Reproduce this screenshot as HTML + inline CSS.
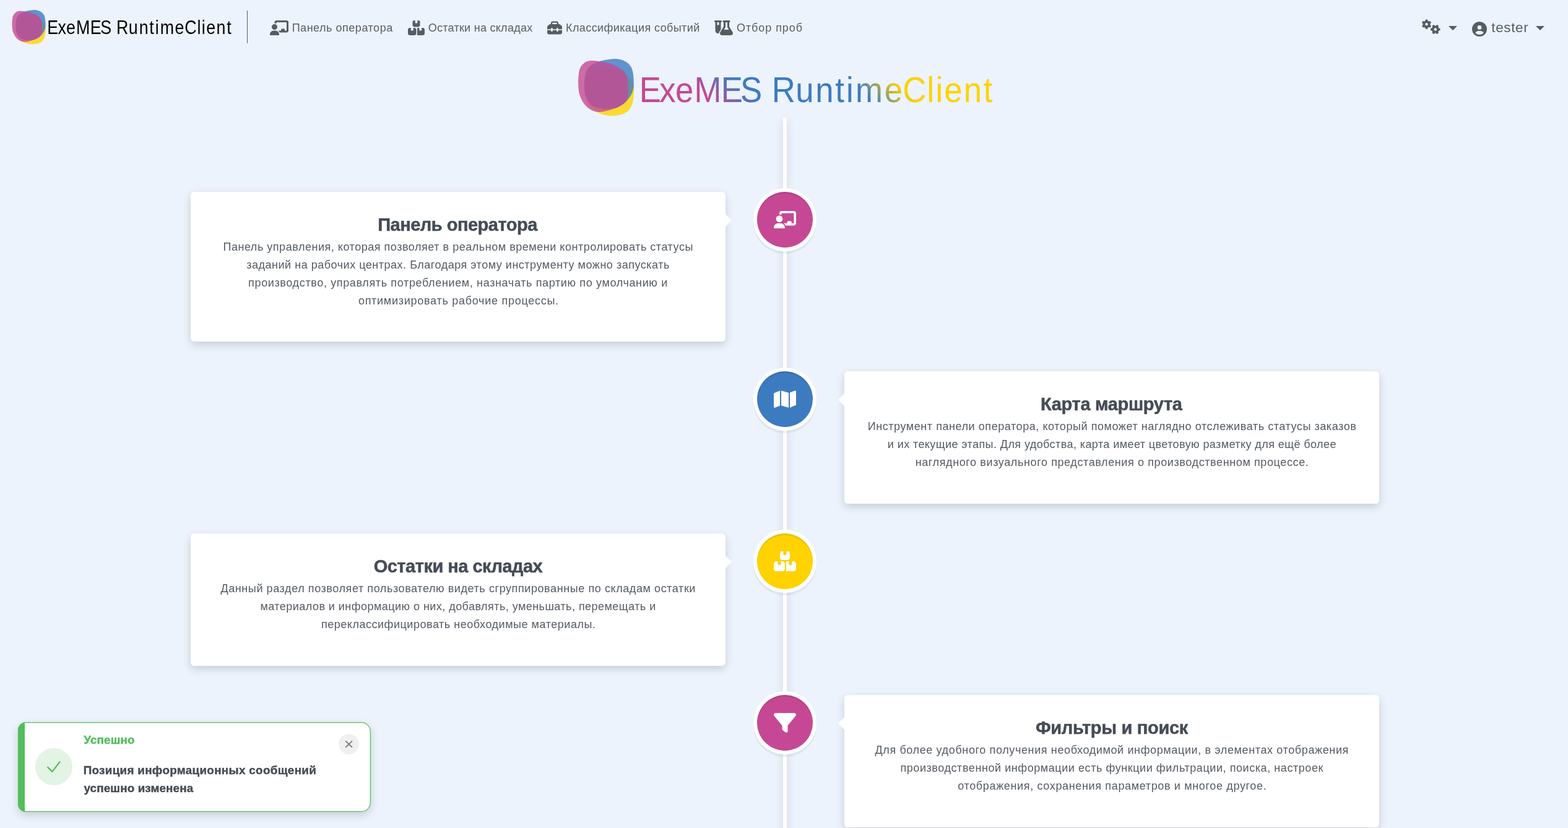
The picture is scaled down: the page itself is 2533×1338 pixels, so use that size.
<!DOCTYPE html>
<html lang="ru">
<head>
<meta charset="utf-8">
<meta name="viewport" content="width=device-width, initial-scale=1">
<title>ExeMES RuntimeClient</title>
<style>
html,body{margin:0;padding:0;background:#ecf3fc;}
body{width:2533px;height:1338px;overflow:hidden;position:relative;font-family:"Liberation Sans", sans-serif;}
#app{position:absolute;left:0;top:0;width:2533px;height:1338px;overflow:hidden;will-change:transform;}
nav,main,header,h1,h3,p,ul,li{margin:0;padding:0;font-weight:400;font-size:inherit;list-style:none;}
.abs{position:absolute;display:block;}
.t{position:absolute;display:block;white-space:nowrap;margin:0;padding:0;font-family:"Liberation Sans", sans-serif;font-weight:400;text-decoration:none;}
.sep{position:absolute;left:399px;top:17px;width:1px;height:53px;background:#5a5f66;}
.caret{position:absolute;width:0;height:0;border-left:7px solid transparent;border-right:7px solid transparent;border-top:7px solid #575c62;}
.line{position:absolute;left:1265px;top:190px;width:6px;height:1200px;background:#fff;box-shadow:0 5px 14px rgba(0,0,0,.16);}
.card{position:absolute;width:864px;background:#fff;border-radius:6px;box-shadow:0 5px 14px rgba(0,0,0,.16);}
.arrow{position:absolute;top:36px;width:0;height:0;border:10px solid transparent;}
.arrow.l{left:864px;border-left-color:#fff;}
.arrow.r{left:-20px;border-right-color:#fff;}
.dot{position:absolute;left:1223px;width:90px;height:90px;border-radius:50%;box-shadow:0 0 0 6px #fff, inset 0 3px 0 rgba(0,0,0,.08), 0 4.5px 0 6px rgba(0,0,0,.05);}
.toast{position:absolute;left:29px;top:1167px;width:570px;height:145px;border-radius:13px 15px 15px 13px;background:linear-gradient(to right,#52be5a 0,#52be5a 10.8px,#fff 10.8px);box-shadow:inset 0 0 0 1.25px #52be5a, 0 5px 14px rgba(0,0,0,.16);}
.ticon{position:absolute;left:28px;top:42px;width:60px;height:60px;border-radius:50%;background:#e3f3e4;}
.tclose{position:absolute;left:518px;top:19px;width:33px;height:33px;border:0;padding:0;margin:0;border-radius:50%;background:#f0f0f0;}
</style>
</head>
<body>
<div id="app">

<nav>
<svg class="abs" style="left:17.0px;top:13.0px" width="62" height="62" viewBox="0 0 62 62"><path fill="#ffd200" fill-opacity="0.8" d="M8.31 30.08C8.25 27.23 8.31 23.46 8.74 21.05C9.16 18.65 9.79 17.04 10.85 15.64C11.90 14.24 13.36 13.28 15.06 12.63C16.77 11.98 18.58 11.88 21.09 11.73C23.60 11.58 27.11 11.53 30.12 11.73C33.14 11.93 36.75 12.43 39.16 12.93C41.57 13.43 43.09 14.05 44.59 14.74C46.08 15.43 46.92 16.04 48.14 17.08C49.35 18.13 50.84 19.72 51.88 20.99C52.91 22.27 53.68 23.48 54.35 24.72C55.01 25.96 55.46 27.37 55.85 28.45C56.24 29.53 56.57 30.01 56.70 31.22C56.82 32.42 56.68 33.89 56.57 35.67C56.47 37.44 56.34 40.01 56.09 41.86C55.84 43.72 55.56 45.27 55.07 46.80C54.58 48.32 53.88 49.81 53.14 51.01C52.40 52.20 51.64 53.09 50.61 53.95C49.58 54.82 48.37 55.56 46.93 56.18C45.50 56.80 43.65 57.33 41.99 57.68C40.34 58.03 38.65 58.21 36.99 58.29C35.34 58.37 33.70 58.31 32.05 58.17C30.41 58.02 28.59 57.81 27.11 57.44C25.64 57.07 24.50 56.52 23.20 55.94C21.89 55.36 20.56 54.78 19.28 53.95C18.00 53.13 16.58 51.99 15.54 51.01C14.51 50.02 13.86 49.17 13.07 48.06C12.29 46.95 11.51 45.98 10.85 44.33C10.18 42.68 9.52 40.51 9.10 38.14C8.68 35.76 8.37 32.92 8.31 30.08Z"/><path fill="#3d7bc0" fill-opacity="0.8" d="M8.37 28.27C8.33 26.65 8.37 26.14 8.50 24.72C8.62 23.31 8.79 21.35 9.10 19.79C9.41 18.23 9.82 16.66 10.36 15.34C10.91 14.01 11.49 12.92 12.35 11.85C13.21 10.78 14.39 9.72 15.54 8.90C16.70 8.08 18.03 7.48 19.28 6.92C20.53 6.36 21.71 5.92 23.02 5.53C24.32 5.14 25.40 4.91 27.11 4.57C28.83 4.23 31.34 3.74 33.32 3.49C35.30 3.24 37.12 2.99 38.98 3.07C40.84 3.15 42.73 3.45 44.46 3.97C46.20 4.49 48.05 5.33 49.41 6.20C50.76 7.06 51.73 8.12 52.60 9.14C53.46 10.17 54.04 10.97 54.59 12.33C55.13 13.69 55.54 15.47 55.85 17.32C56.16 19.18 56.33 21.63 56.45 23.46C56.57 25.28 56.59 26.98 56.57 28.27C56.55 29.56 56.58 29.98 56.33 31.22C56.08 32.45 55.60 34.31 55.07 35.67C54.54 37.03 53.88 38.21 53.14 39.40C52.40 40.59 51.44 41.79 50.61 42.83C49.78 43.86 49.16 44.68 48.14 45.59C47.12 46.51 45.91 47.44 44.46 48.30C43.02 49.16 41.35 50.20 39.46 50.77C37.58 51.34 35.27 51.59 33.14 51.73C31.01 51.87 28.59 51.73 26.69 51.61C24.79 51.49 23.20 51.36 21.75 51.01C20.30 50.66 19.25 50.17 18.01 49.50C16.78 48.84 15.36 47.98 14.34 47.04C13.32 46.09 12.61 45.12 11.87 43.85C11.13 42.58 10.40 40.96 9.88 39.40C9.36 37.83 8.99 36.32 8.74 34.47C8.49 32.61 8.41 29.89 8.37 28.27Z"/><path fill="#c64894" fill-opacity="0.8" d="M2.53 28.27C2.48 26.45 2.38 24.49 2.53 22.26C2.68 20.02 2.99 16.83 3.43 14.86C3.88 12.88 4.40 11.69 5.18 10.41C5.96 9.12 7.02 8.01 8.13 7.16C9.25 6.31 10.63 5.68 11.87 5.29C13.10 4.90 14.31 4.87 15.54 4.81C16.78 4.75 18.03 4.81 19.28 4.93C20.53 5.05 21.71 5.32 23.02 5.53C24.32 5.74 25.40 5.84 27.11 6.20C28.83 6.55 31.34 7.03 33.32 7.64C35.30 8.25 37.33 9.08 38.98 9.86C40.63 10.65 41.95 11.50 43.20 12.33C44.44 13.16 45.54 13.94 46.45 14.86C47.37 15.77 48.11 16.78 48.68 17.80C49.25 18.83 49.59 19.84 49.89 20.99C50.19 22.15 50.37 23.51 50.49 24.72C50.61 25.93 50.52 26.65 50.61 28.27C50.70 29.89 51.03 32.61 51.03 34.47C51.03 36.32 50.88 37.95 50.61 39.40C50.34 40.84 50.02 41.97 49.41 43.13C48.79 44.28 47.97 45.37 46.93 46.32C45.90 47.26 44.44 48.08 43.20 48.78C41.95 49.48 40.91 49.94 39.46 50.53C38.02 51.11 36.24 51.72 34.52 52.27C32.81 52.82 30.67 53.44 29.16 53.83C27.65 54.23 26.72 54.47 25.49 54.62C24.25 54.77 23.00 54.85 21.75 54.74C20.51 54.63 19.25 54.37 18.01 53.95C16.78 53.54 15.57 53.01 14.34 52.27C13.10 51.53 11.72 50.54 10.60 49.50C9.49 48.47 8.52 47.31 7.65 46.07C6.79 44.84 6.09 43.51 5.42 42.11C4.76 40.70 4.11 39.14 3.68 37.65C3.24 36.17 3.02 34.77 2.83 33.20C2.64 31.64 2.58 30.10 2.53 28.27Z"/></svg>
<svg class="abs" style="left:70px;top:10px" width="320" height="70" viewBox="70 10 320 70"><text transform="scale(0.87,1)" x="87.75 107.50 123.12 141.51 167.44 186.51 207.05 215.98 238.89 258.23 277.42 288.13 297.33 324.86 342.78 366.14 374.51 382.95 401.72 420.93" y="54.8" font-family='"Liberation Sans", sans-serif' font-size="30.8" fill="#000">ExeMES RuntimeClient</text></svg>
<div class="sep"></div>
<ul>
<li><svg class="abs" style="left:436px;top:33px" width="30" height="24" viewBox="0 0 640 512" preserveAspectRatio="none" aria-hidden="true"><path fill="#575c62" d="M160 64c0-35.3 28.7-64 64-64H576c35.3 0 64 28.7 64 64V352c0 35.3-28.7 64-64 64H336.8c-11.8-25.5-29.9-47.5-52.4-64H384V320c0-17.7 14.3-32 32-32h64c17.7 0 32 14.3 32 32v32h64V64L224 64v49.1C205.2 102.2 183.3 96 160 96V64zm0 64a96 96 0 1 1 0 192 96 96 0 1 1 0-192zM133.3 352h53.3C260.3 352 320 411.7 320 485.3c0 14.7-11.9 26.7-26.7 26.7H26.7C11.9 512 0 500.1 0 485.3C0 411.7 59.7 352 133.3 352z"/></svg><a class="t" style="left:471.66px;top:32.90px;font-size:18px;line-height:25px;height:25px;letter-spacing:0.526px;color:#595d63;">Панель оператора</a></li>
<li><svg class="abs" style="left:659px;top:33px" width="27" height="24" viewBox="0 0 576 512" preserveAspectRatio="none" aria-hidden="true"><path fill="#575c62" d="M248 0H208c-26.5 0-48 21.5-48 48V160c0 35.3 28.7 64 64 64H352c35.3 0 64-28.7 64-64V48c0-26.5-21.5-48-48-48H328V80c0 8.8-7.2 16-16 16H264c-8.8 0-16-7.2-16-16V0zM64 256c-35.3 0-64 28.7-64 64V448c0 35.3 28.7 64 64 64H224c35.3 0 64-28.7 64-64V320c0-35.3-28.7-64-64-64H184v80c0 8.8-7.2 16-16 16H120c-8.8 0-16-7.2-16-16V256H64zM352 512H512c35.3 0 64-28.7 64-64V320c0-35.3-28.7-64-64-64H472v80c0 8.8-7.2 16-16 16H408c-8.8 0-16-7.2-16-16V256H352c-15 0-28.8 5.1-39.7 13.8c4.9 10.4 7.7 22 7.7 34.2V464c0 12.2-2.8 23.8-7.7 34.2C323.2 506.9 337 512 352 512z"/></svg><a class="t" style="left:691.66px;top:32.90px;font-size:18px;line-height:25px;height:25px;letter-spacing:0.276px;color:#595d63;">Остатки на складах</a></li>
<li><svg class="abs" style="left:884px;top:33px" width="24" height="24" viewBox="0 0 512 512" preserveAspectRatio="none" aria-hidden="true"><path fill="#575c62" d="M176 88v40H336V88c0-4.4-3.6-8-8-8H184c-4.4 0-8 3.6-8 8zm-48 40V88c0-30.9 25.1-56 56-56H328c30.9 0 56 25.1 56 56v40h28.1c12.7 0 24.9 5.1 33.9 14.1l51.9 51.9c9 9 14.1 21.2 14.1 33.9V304H384V288c0-17.7-14.3-32-32-32s-32 14.3-32 32v16H192V288c0-17.7-14.3-32-32-32s-32 14.3-32 32v16H0V227.9c0-12.7 5.1-24.9 14.1-33.9l51.9-51.9c9-9 21.2-14.1 33.9-14.1H128zM0 416V336H128v16c0 17.7 14.3 32 32 32s32-14.3 32-32V336H320v16c0 17.7 14.3 32 32 32s32-14.3 32-32V336H512v80c0 35.3-28.7 64-64 64H64c-35.3 0-64-28.7-64-64z"/></svg><a class="t" style="left:914.00px;top:32.90px;font-size:18px;line-height:25px;height:25px;letter-spacing:0.408px;color:#595d63;">Классификация событий</a></li>
<li><svg class="abs" style="left:1154px;top:33px" width="30" height="24" viewBox="0 0 640 512" preserveAspectRatio="none" aria-hidden="true"><path fill="#575c62" d="M175 389.4c-9.8 16-15 34.3-15 53.1c-10 3.5-20.8 5.5-32 5.5c-53 0-96-43-96-96V64C14.3 64 0 49.7 0 32S14.3 0 32 0H96h64 64c17.7 0 32 14.3 32 32s-14.3 32-32 32V309.9l-49 79.6zM96 64v96h64V64H96zM352 0H480h32c17.7 0 32 14.3 32 32s-14.3 32-32 32V214.9L629.7 406.2c6.7 10.9 10.3 23.5 10.3 36.4c0 38.3-31.1 69.4-69.4 69.4H261.4c-38.3 0-69.4-31.1-69.4-69.4c0-12.8 3.6-25.4 10.3-36.4L320 214.9V64c-17.7 0-32-14.3-32-32s14.3-32 32-32h32zm32 64V224c0 5.9-1.6 11.7-4.7 16.8L330.5 320h171l-48.8-79.2c-3.1-5-4.7-10.8-4.7-16.8V64H384z"/></svg><a class="t" style="left:1190.00px;top:32.90px;font-size:18px;line-height:25px;height:25px;letter-spacing:0.931px;color:#595d63;">Отбор проб</a></li>
<li><svg class="abs" style="left:2297px;top:31.3px" width="30" height="24" viewBox="0 0 640 512" preserveAspectRatio="none" aria-hidden="true"><path fill="#575c62" d="M308.5 135.3c7.1-6.3 9.9-16.2 6.2-25c-2.3-5.3-4.8-10.5-7.6-15.5L304 89.4c-3-5-6.3-9.9-9.8-14.6c-5.7-7.6-15.7-10.1-24.7-7.1l-28.2 9.3c-10.7-8.8-23-16-36.2-20.9L199 27.1c-1.9-9.3-9.1-16.7-18.5-17.8C173.9 8.4 167.2 8 160.4 8h-.7c-6.8 0-13.5 .4-20.1 1.2c-9.4 1.1-16.6 8.6-18.5 17.8L115 56.1c-13.3 5-25.5 12.1-36.2 20.9L50.5 67.8c-9-3-19-.5-24.7 7.1c-3.5 4.7-6.8 9.6-9.9 14.6l-3 5.3c-2.8 5-5.3 10.2-7.6 15.6c-3.7 8.7-.9 18.6 6.2 25l22.2 19.8C32.6 161.9 32 168.9 32 176s.6 14.1 1.7 20.9L11.5 216.7c-7.1 6.3-9.9 16.2-6.2 25c2.3 5.3 4.8 10.5 7.6 15.6l3 5.2c3 5.1 6.3 9.9 9.9 14.6c5.7 7.6 15.7 10.1 24.7 7.1l28.2-9.3c10.7 8.8 23 16 36.2 20.9l6.1 29.1c1.9 9.3 9.1 16.7 18.5 17.8c6.7 .8 13.5 1.2 20.4 1.2s13.7-.4 20.4-1.2c9.4-1.1 16.6-8.6 18.5-17.8l6.1-29.1c13.3-5 25.5-12.1 36.2-20.9l28.2 9.3c9 3 19 .5 24.7-7.1c3.5-4.7 6.8-9.5 9.8-14.6l3.1-5.4c2.8-5 5.3-10.2 7.6-15.5c3.7-8.7 .9-18.6-6.2-25l-22.2-19.8c1.1-6.8 1.7-13.8 1.7-20.9s-.6-14.1-1.7-20.9l22.2-19.8zM112 176a48 48 0 1 1 96 0 48 48 0 1 1 -96 0zM504.7 500.5c6.3 7.1 16.2 9.9 25 6.2c5.3-2.3 10.5-4.8 15.5-7.6l5.4-3.1c5-3 9.9-6.3 14.6-9.8c7.6-5.7 10.1-15.7 7.1-24.7l-9.3-28.2c8.8-10.7 16-23 20.9-36.2l29.1-6.1c9.3-1.9 16.7-9.1 17.8-18.5c.8-6.7 1.2-13.5 1.2-20.4s-.4-13.7-1.2-20.4c-1.1-9.4-8.6-16.6-17.8-18.5L583.9 307c-5-13.3-12.1-25.5-20.9-36.2l9.3-28.2c3-9 .5-19-7.1-24.7c-4.7-3.5-9.6-6.8-14.6-9.9l-5.3-3c-5-2.8-10.2-5.3-15.6-7.6c-8.7-3.7-18.6-.9-25 6.2l-19.8 22.2c-6.8-1.1-13.8-1.7-20.9-1.7s-14.1 .6-20.9 1.7l-19.8-22.2c-6.3-7.1-16.2-9.9-25-6.2c-5.3 2.3-10.5 4.8-15.6 7.6l-5.2 3c-5.1 3-9.9 6.3-14.6 9.9c-7.6 5.7-10.1 15.7-7.1 24.7l9.3 28.2c-8.8 10.7-16 23-20.9 36.2L315.1 313c-9.3 1.9-16.7 9.1-17.8 18.5c-.8 6.7-1.2 13.5-1.2 20.4s.4 13.7 1.2 20.4c1.1 9.4 8.6 16.6 17.8 18.5l29.1 6.1c5 13.3 12.1 25.5 20.9 36.2l-9.3 28.2c-3 9-.5 19 7.1 24.7c4.7 3.5 9.5 6.8 14.6 9.8l5.4 3.1c5 2.8 10.2 5.3 15.5 7.6c8.7 3.7 18.6 .9 25-6.2l19.8-22.2c6.8 1.1 13.8 1.7 20.9 1.7s14.1-.6 20.9-1.7l19.8 22.2zM464 304a48 48 0 1 1 0 96 48 48 0 1 1 0-96z"/></svg><span class="caret" style="left:2340px;top:42px"></span></li>
<li><svg class="abs" style="left:2378px;top:35px" width="24" height="24" viewBox="0 0 512 512" preserveAspectRatio="none" aria-hidden="true"><path fill="#575c62" d="M399 384.2C376.9 345.8 335.4 320 288 320H224c-47.4 0-88.9 25.8-111 64.2c35.2 39.2 86.2 63.8 143 63.8s107.8-24.7 143-63.8zM0 256a256 256 0 1 1 512 0A256 256 0 1 1 0 256zm256 16a72 72 0 1 0 0-144 72 72 0 1 0 0 144z"/></svg><a class="t" style="left:2409.36px;top:29.00px;font-size:22.5px;line-height:31px;height:31px;letter-spacing:0.604px;color:#595d63;">tester</a><span class="caret" style="left:2481px;top:42px"></span></li>
</ul>
</nav>
<main>
<header>
<svg class="abs" style="left:930px;top:90px" width="100" height="100" viewBox="0 0 100 100"><path fill="#ffd200" fill-opacity="0.8" d="M13.80 50.00C13.70 45.27 13.80 39.00 14.50 35.00C15.20 31.00 16.25 28.33 18.00 26.00C19.75 23.67 22.17 22.08 25.00 21.00C27.83 19.92 30.83 19.75 35.00 19.50C39.17 19.25 45.00 19.17 50.00 19.50C55.00 19.83 61.00 20.67 65.00 21.50C69.00 22.33 71.52 23.35 74.00 24.50C76.48 25.65 77.88 26.67 79.90 28.40C81.92 30.13 84.38 32.78 86.10 34.90C87.82 37.02 89.10 39.03 90.20 41.10C91.30 43.17 92.05 45.50 92.70 47.30C93.35 49.10 93.90 49.90 94.10 51.90C94.30 53.90 94.07 56.35 93.90 59.30C93.73 62.25 93.52 66.52 93.10 69.60C92.68 72.68 92.22 75.27 91.40 77.80C90.58 80.33 89.43 82.82 88.20 84.80C86.97 86.78 85.72 88.27 84.00 89.70C82.28 91.13 80.28 92.37 77.90 93.40C75.52 94.43 72.45 95.32 69.70 95.90C66.95 96.48 64.15 96.77 61.40 96.90C58.65 97.03 55.93 96.93 53.20 96.70C50.47 96.47 47.45 96.12 45.00 95.50C42.55 94.88 40.67 93.97 38.50 93.00C36.33 92.03 34.12 91.07 32.00 89.70C29.88 88.33 27.52 86.43 25.80 84.80C24.08 83.17 23.00 81.75 21.70 79.90C20.40 78.05 19.10 76.45 18.00 73.70C16.90 70.95 15.80 67.35 15.10 63.40C14.40 59.45 13.90 54.73 13.80 50.00Z"/><path fill="#3d7bc0" fill-opacity="0.8" d="M13.90 47.00C13.83 44.30 13.90 43.45 14.10 41.10C14.30 38.75 14.58 35.50 15.10 32.90C15.62 30.30 16.30 27.70 17.20 25.50C18.10 23.30 19.07 21.48 20.50 19.70C21.93 17.92 23.88 16.17 25.80 14.80C27.72 13.43 29.93 12.43 32.00 11.50C34.07 10.57 36.03 9.85 38.20 9.20C40.37 8.55 42.15 8.17 45.00 7.60C47.85 7.03 52.02 6.22 55.30 5.80C58.58 5.38 61.62 4.97 64.70 5.10C67.78 5.23 70.92 5.73 73.80 6.60C76.68 7.47 79.75 8.87 82.00 10.30C84.25 11.73 85.87 13.50 87.30 15.20C88.73 16.90 89.70 18.23 90.60 20.50C91.50 22.77 92.18 25.72 92.70 28.80C93.22 31.88 93.50 35.97 93.70 39.00C93.90 42.03 93.93 44.85 93.90 47.00C93.87 49.15 93.92 49.85 93.50 51.90C93.08 53.95 92.28 57.03 91.40 59.30C90.52 61.57 89.43 63.52 88.20 65.50C86.97 67.48 85.38 69.48 84.00 71.20C82.62 72.92 81.60 74.28 79.90 75.80C78.20 77.32 76.20 78.87 73.80 80.30C71.40 81.73 68.63 83.45 65.50 84.40C62.37 85.35 58.53 85.77 55.00 86.00C51.47 86.23 47.45 86.00 44.30 85.80C41.15 85.60 38.50 85.38 36.10 84.80C33.70 84.22 31.95 83.40 29.90 82.30C27.85 81.20 25.50 79.77 23.80 78.20C22.10 76.63 20.93 75.02 19.70 72.90C18.47 70.78 17.27 68.10 16.40 65.50C15.53 62.90 14.92 60.38 14.50 57.30C14.08 54.22 13.97 49.70 13.90 47.00Z"/><path fill="#c64894" fill-opacity="0.8" d="M4.20 47.00C4.12 43.97 3.95 40.72 4.20 37.00C4.45 33.28 4.97 27.98 5.70 24.70C6.43 21.42 7.30 19.43 8.60 17.30C9.90 15.17 11.65 13.32 13.50 11.90C15.35 10.48 17.65 9.45 19.70 8.80C21.75 8.15 23.75 8.10 25.80 8.00C27.85 7.90 29.93 8.00 32.00 8.20C34.07 8.40 36.03 8.85 38.20 9.20C40.37 9.55 42.15 9.72 45.00 10.30C47.85 10.88 52.02 11.68 55.30 12.70C58.58 13.72 61.97 15.10 64.70 16.40C67.43 17.70 69.63 19.12 71.70 20.50C73.77 21.88 75.58 23.18 77.10 24.70C78.62 26.22 79.85 27.90 80.80 29.60C81.75 31.30 82.30 32.98 82.80 34.90C83.30 36.82 83.60 39.08 83.80 41.10C84.00 43.12 83.85 44.30 84.00 47.00C84.15 49.70 84.70 54.22 84.70 57.30C84.70 60.38 84.45 63.10 84.00 65.50C83.55 67.90 83.02 69.78 82.00 71.70C80.98 73.62 79.62 75.43 77.90 77.00C76.18 78.57 73.77 79.93 71.70 81.10C69.63 82.27 67.90 83.03 65.50 84.00C63.10 84.97 60.15 85.98 57.30 86.90C54.45 87.82 50.90 88.85 48.40 89.50C45.90 90.15 44.35 90.55 42.30 90.80C40.25 91.05 38.17 91.18 36.10 91.00C34.03 90.82 31.95 90.38 29.90 89.70C27.85 89.02 25.85 88.13 23.80 86.90C21.75 85.67 19.45 84.02 17.60 82.30C15.75 80.58 14.13 78.65 12.70 76.60C11.27 74.55 10.10 72.33 9.00 70.00C7.90 67.67 6.82 65.07 6.10 62.60C5.38 60.13 5.02 57.80 4.70 55.20C4.38 52.60 4.28 50.03 4.20 47.00Z"/></svg>
<h1><svg class="abs" style="left:1000px;top:90px" width="660" height="110" viewBox="1000 90 660 110">
<defs><linearGradient id="tg" gradientUnits="userSpaceOnUse" gradientTransform="scale(1.09290,1)" x1="1130" y1="145" x2="1295" y2="-20">
<stop offset="0" stop-color="#c64894"/><stop offset="0.2121" stop-color="#3d7bc0"/><stop offset="0.7879" stop-color="#3d7bc0"/><stop offset="1" stop-color="#ffd200"/></linearGradient></defs>
<text transform="scale(0.915,1)" x="1128.75 1164.18 1192.42 1225.60 1272.93 1307.16 1345.58 1362.57 1404.73 1439.58 1474.68 1494.09 1510.25 1561.38 1593.72 1636.54 1651.88 1666.90 1701.31 1736.40" y="164.9" font-family='"Liberation Sans", sans-serif' font-size="57.6" fill="url(#tg)">ExeMES RuntimeClient</text>
</svg></h1>
</header>
<div class="line"></div>
<section>
<div class="card" style="left:308px;top:310px;height:242px">
<div class="arrow l"></div>
<h3 class="t" style="left:302.20px;top:32.50px;font-size:29px;line-height:41px;height:41px;letter-spacing:-0.492px;color:#454c56;font-weight:700;-webkit-text-stroke:0.5px #454c56;">Панель оператора</h3>
<p>
<span class="t" style="left:52.44px;top:77.00px;font-size:18px;line-height:25px;height:25px;letter-spacing:0.528px;color:#545b63;">Панель управления, которая позволяет в реальном времени контролировать статусы</span>
<span class="t" style="left:90.22px;top:105.85px;font-size:18px;line-height:25px;height:25px;letter-spacing:0.516px;color:#545b63;">заданий на рабочих центрах. Благодаря этому инструменту можно запускать</span>
<span class="t" style="left:93.10px;top:134.70px;font-size:18px;line-height:25px;height:25px;letter-spacing:0.638px;color:#545b63;">производство, управлять потреблением, назначать партию по умолчанию и</span>
<span class="t" style="left:270.90px;top:163.55px;font-size:18px;line-height:25px;height:25px;letter-spacing:0.728px;color:#545b63;">оптимизировать рабочие процессы.</span>
</p>
</div>
<div class="dot" style="top:310px;background:#c64894"><svg class="abs" style="left:27.0px;top:30.6px" width="36" height="28.8" viewBox="0 0 640 512" preserveAspectRatio="none" aria-hidden="true"><path fill="#fff" d="M160 64c0-35.3 28.7-64 64-64H576c35.3 0 64 28.7 64 64V352c0 35.3-28.7 64-64 64H336.8c-11.8-25.5-29.9-47.5-52.4-64H384V320c0-17.7 14.3-32 32-32h64c17.7 0 32 14.3 32 32v32h64V64L224 64v49.1C205.2 102.2 183.3 96 160 96V64zm0 64a96 96 0 1 1 0 192 96 96 0 1 1 0-192zM133.3 352h53.3C260.3 352 320 411.7 320 485.3c0 14.7-11.9 26.7-26.7 26.7H26.7C11.9 512 0 500.1 0 485.3C0 411.7 59.7 352 133.3 352z"/></svg></div>
</section>
<section>
<div class="card" style="left:1364px;top:600px;height:214px">
<div class="arrow r"></div>
<h3 class="t" style="left:316.98px;top:32.50px;font-size:29px;line-height:41px;height:41px;letter-spacing:-0.316px;color:#454c56;font-weight:700;-webkit-text-stroke:0.5px #454c56;">Карта маршрута</h3>
<p>
<span class="t" style="left:37.66px;top:77.00px;font-size:18px;line-height:25px;height:25px;letter-spacing:0.563px;color:#545b63;">Инструмент панели оператора, который поможет наглядно отслеживать статусы заказов</span>
<span class="t" style="left:69.78px;top:105.85px;font-size:18px;line-height:25px;height:25px;letter-spacing:0.419px;color:#545b63;">и их текущие этапы. Для удобства, карта имеет цветовую разметку для ещё более</span>
<span class="t" style="left:114.66px;top:134.70px;font-size:18px;line-height:25px;height:25px;letter-spacing:0.608px;color:#545b63;">наглядного визуального представления о производственном процессе.</span>
</p>
</div>
<div class="dot" style="top:600px;background:#3d7bc0"><svg class="abs" style="left:27.0px;top:29.0px" width="36" height="32.0" viewBox="0 0 576 512" preserveAspectRatio="none" aria-hidden="true"><path fill="#fff" d="M384 476.1L192 421.2V35.9L384 90.8V476.1zm32-1.2V88.4L543.1 37.5c15.8-6.3 32.900 5.3 32.900 22.300V394.600c0 9.800-6 18.600-15.100 22.300L416 474.800zM15.100 95.100L160 37.200V423.600L32.900 474.500C17.100 480.800 0 469.200 0 452.200V117.400c0-9.800 6-18.600 15.100-22.300z"/></svg></div>
</section>
<section>
<div class="card" style="left:308px;top:862px;height:214px">
<div class="arrow l"></div>
<h3 class="t" style="left:295.68px;top:32.50px;font-size:29px;line-height:41px;height:41px;letter-spacing:-0.502px;color:#454c56;font-weight:700;-webkit-text-stroke:0.5px #454c56;">Остатки на складах</h3>
<p>
<span class="t" style="left:48.46px;top:77.00px;font-size:18px;line-height:25px;height:25px;letter-spacing:0.584px;color:#545b63;">Данный раздел позволяет пользователю видеть сгруппированные по складам остатки</span>
<span class="t" style="left:112.44px;top:105.85px;font-size:18px;line-height:25px;height:25px;letter-spacing:0.458px;color:#545b63;">материалов и информацию о них, добавлять, уменьшать, перемещать и</span>
<span class="t" style="left:210.88px;top:134.70px;font-size:18px;line-height:25px;height:25px;letter-spacing:0.530px;color:#545b63;">переклассифицировать необходимые материалы.</span>
</p>
</div>
<div class="dot" style="top:862px;background:#ffd200"><svg class="abs" style="left:27.0px;top:29.0px" width="36" height="32.0" viewBox="0 0 576 512" preserveAspectRatio="none" aria-hidden="true"><path fill="#fff" d="M248 0H208c-26.5 0-48 21.5-48 48V160c0 35.3 28.7 64 64 64H352c35.3 0 64-28.7 64-64V48c0-26.5-21.5-48-48-48H328V80c0 8.8-7.2 16-16 16H264c-8.8 0-16-7.2-16-16V0zM64 256c-35.3 0-64 28.7-64 64V448c0 35.3 28.7 64 64 64H224c35.3 0 64-28.7 64-64V320c0-35.3-28.7-64-64-64H184v80c0 8.8-7.2 16-16 16H120c-8.8 0-16-7.2-16-16V256H64zM352 512H512c35.3 0 64-28.7 64-64V320c0-35.3-28.7-64-64-64H472v80c0 8.8-7.2 16-16 16H408c-8.8 0-16-7.2-16-16V256H352c-15 0-28.8 5.1-39.7 13.8c4.9 10.4 7.7 22 7.7 34.2V464c0 12.2-2.8 23.8-7.7 34.2C323.2 506.9 337 512 352 512z"/></svg></div>
</section>
<section>
<div class="card" style="left:1364px;top:1123px;height:214px">
<div class="arrow r"></div>
<h3 class="t" style="left:308.90px;top:32.50px;font-size:29px;line-height:41px;height:41px;letter-spacing:-0.303px;color:#454c56;font-weight:700;-webkit-text-stroke:0.5px #454c56;">Фильтры и поиск</h3>
<p>
<span class="t" style="left:49.46px;top:77.00px;font-size:18px;line-height:25px;height:25px;letter-spacing:0.625px;color:#545b63;">Для более удобного получения необходимой информации, в элементах отображения</span>
<span class="t" style="left:90.44px;top:105.85px;font-size:18px;line-height:25px;height:25px;letter-spacing:0.566px;color:#545b63;">производственной информации есть функции фильтрации, поиска, настроек</span>
<span class="t" style="left:183.24px;top:134.70px;font-size:18px;line-height:25px;height:25px;letter-spacing:0.649px;color:#545b63;">отображения, сохранения параметров и многое другое.</span>
</p>
</div>
<div class="dot" style="top:1123px;background:#c64894"><svg class="abs" style="left:27.0px;top:27.0px" width="36" height="36.0" viewBox="0 0 512 512" preserveAspectRatio="none" aria-hidden="true"><path fill="#fff" d="M3.900 54.900C10.500 40.900 24.500 32 40 32H472c15.500 0 29.500 8.900 36.100 22.900s4.600 30.500-5.200 42.500L320 320.900V448c0 12.100-6.800 23.200-17.700 28.600s-23.800 4.300-33.500-3l-64-48c-8.100-6-12.800-15.500-12.800-25.600V320.900L9 97.300C-.700 85.400-2.800 68.800 3.900 54.900z"/></svg></div>
</section>
</main>
<div class="toast" role="alert">
<div class="ticon"><svg class="abs" style="left:13px;top:13px" width="34" height="34" viewBox="70 1222 34 34" aria-hidden="true"><path d="M77.2 1239.9L84.4 1246.9L96.6 1231.1" fill="none" stroke="#52be5a" stroke-width="2.3" stroke-linecap="round" stroke-linejoin="round"/></svg></div>
<div class="t" style="left:106.36px;top:15.80px;font-size:18.8px;line-height:26px;height:26px;letter-spacing:0.134px;color:#52be5a;font-weight:700;-webkit-text-stroke:0.4px #52be5a;">Успешно</div>
<div class="t" style="left:105.66px;top:64.90px;font-size:18.8px;line-height:26px;height:26px;letter-spacing:0.345px;color:#454c56;font-weight:700;-webkit-text-stroke:0.4px #454c56;">Позиция информационных сообщений</div>
<div class="t" style="left:106.48px;top:93.90px;font-size:18.8px;line-height:26px;height:26px;letter-spacing:0.160px;color:#454c56;font-weight:700;-webkit-text-stroke:0.4px #454c56;">успешно изменена</div>
<button class="tclose" type="button" aria-label="Закрыть"><svg class="abs" style="left:6px;top:6px" width="22" height="22" viewBox="553 1192 22 22" aria-hidden="true"><path d="M558.7 1197.9L568.5 1207.2M568.5 1197.9L558.7 1207.2" fill="none" stroke="#7d7d7d" stroke-width="1.9" stroke-linecap="round"/></svg></button>
</div>
</div>
</body>
</html>
